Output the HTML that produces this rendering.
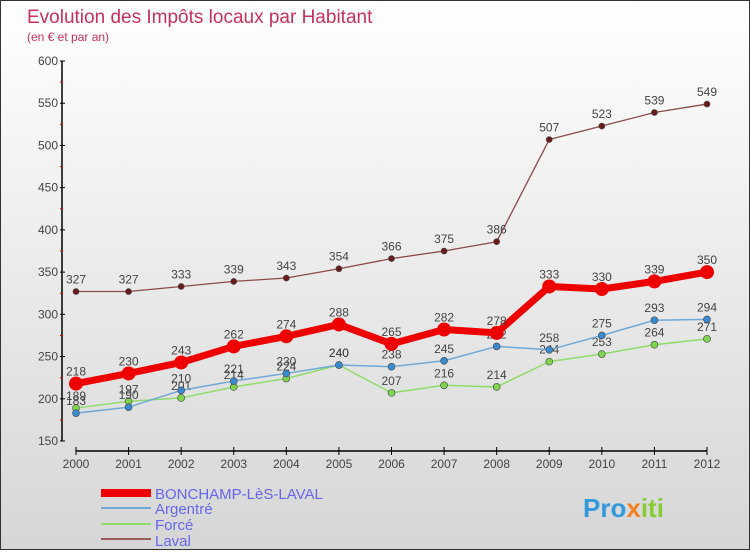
<!DOCTYPE html>
<html><head><meta charset="utf-8"><style>
body{margin:0;width:750px;height:550px;overflow:hidden;font-family:"Liberation Sans",sans-serif}
#wrap{position:relative;width:748px;height:548px;border:1px solid #333;background:linear-gradient(#ffffff,#d6d6d6)}
</style></head><body>
<div id="wrap">
<svg id="chart" width="748" height="548">
<text x="26" y="22" font-size="19" fill="#c8305a">Evolution des Impôts locaux par Habitant</text>
<text x="26" y="40" font-size="12" fill="#c8305a">(en € et par an)</text>
<g id="axes"></g><g id="series"></g>
<g>
<rect x="100" y="488" width="50" height="8" fill="#e00"/>
<text x="154" y="498" font-size="15" fill="#6666ee">BONCHAMP-LèS-LAVAL</text>
<rect x="100" y="506" width="50" height="2" fill="#6fa8d6"/>
<text x="154" y="513" font-size="15" fill="#6666ee">Argentré</text>
<rect x="100" y="522" width="50" height="2" fill="#8fdc6a"/>
<text x="154" y="529" font-size="15" fill="#6666ee">Forcé</text>
<rect x="100" y="537" width="50" height="2" fill="#9a5a5a"/>
<text x="154" y="545" font-size="15" fill="#6666ee">Laval</text>
</g>
<text x="582" y="516" font-size="26" font-weight="bold" fill="#3399dd">Pro<tspan fill="#f08020">x</tspan><tspan fill="#88cc33">iti</tspan></text>
</svg></div>
<script>
const years=[2000,2001,2002,2003,2004,2005,2006,2007,2008,2009,2010,2011,2012];
const yTicks=[150,200,250,300,350,400,450,500,550,600];
const bonchamp=[218,230,243,262,274,288,265,282,278,333,330,339,350];
const argentre=[183,190,210,221,230,240,238,245,262,258,275,293,294];
const force=[189,197,201,214,224,240,207,216,214,244,253,264,271];
const laval=[327,327,333,339,343,354,366,375,386,507,523,539,549];
const NS="http://www.w3.org/2000/svg";
const X=i=>75+i*(631/12);
const Y=v=>440-(v-150)*(380/450);
function mk(tag,attrs,parent){const e=document.createElementNS(NS,tag);for(const k in attrs)e.setAttribute(k,attrs[k]);parent.appendChild(e);return e;}
const axes=document.getElementById('axes'),ser=document.getElementById('series');
let a=mk('line',{x1:61,y1:60,x2:61,y2:440,stroke:'#000','stroke-width':1.5},axes);


a=mk('line',{x1:75,y1:450,x2:706,y2:450,stroke:'#000','stroke-width':1.5},axes);


yTicks.forEach((v,i)=>{
 mk('line',{x1:59,y1:Y(v),x2:64,y2:Y(v),stroke:'#000'},axes);
 if(i<yTicks.length-1)mk('line',{x1:59,y1:Y(v+25),x2:62,y2:Y(v+25),stroke:'#d00'},axes);
 const t=mk('text',{x:57,y:Y(v)+4,'font-size':12,fill:'#444','text-anchor':'end'},axes);
 t.textContent=v;
 
 
});
years.forEach((y,i)=>{
 mk('line',{x1:X(i),y1:446,x2:X(i),y2:454,stroke:'#000'},axes);
 const t=mk('text',{x:X(i),y:467,'font-size':12,fill:'#444','text-anchor':'middle'},axes);
 t.textContent=y;
 
 
});
function series(data,name,color,w,r,fill){
 const g=mk('g',{},ser);
 
 
 mk('polyline',{points:data.map((v,i)=>X(i)+','+Y(v)).join(' '),fill:'none',stroke:color,'stroke-width':w,'stroke-linejoin':'round'},g);
 data.forEach((v,i)=>{
  const c=mk('circle',{cx:X(i),cy:Y(v),r:r,fill:fill,stroke:color==='#e00'?'#e00':'#444','stroke-width':color==='#e00'?0:0.6},g);
  
  
  const t=mk('text',{x:X(i),y:Y(v)-8,'font-size':12,fill:'#444','text-anchor':'middle'},g);
  t.textContent=v;
  
  
 });
}
series(laval,'laval','#8a4a4a',1.3,3,'#6a1a1a');
series(force,'force','#8fdc6a',1.5,3.5,'#7ed44e');
series(argentre,'argentre','#6fa8d6',1.5,3.5,'#3a8ad0');
series(bonchamp,'bonchamp','#e00',7,7,'#e00');
</script>
</body></html>
